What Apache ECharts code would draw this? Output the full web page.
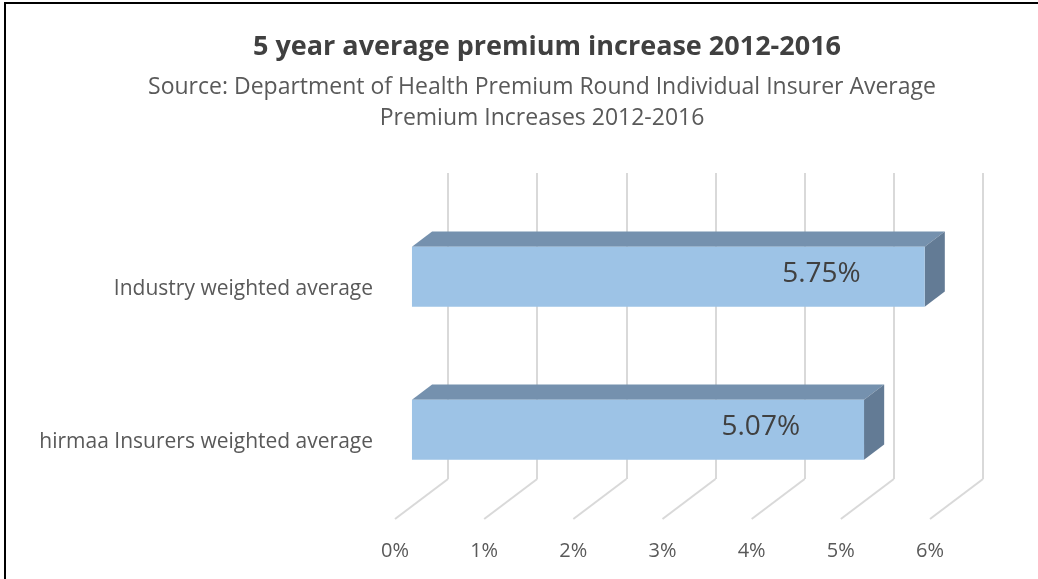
<!DOCTYPE html>
<html>
<head>
<meta charset="utf-8">
<script src="https://cdn.jsdelivr.net/npm/echarts@6/dist/echarts.min.js"></script>
<style>
  html, body { margin: 0; padding: 0; background: #fff; }
  #myDiv { width: 1038px; height: 579px; }
</style>
</head>
<body>
<div id="myDiv"></div>
<script>
// ------------------------------------------------------
// Data
// ------------------------------------------------------
var categories = ['hirmaa Insurers weighted average', 'Industry weighted average']
var increases = [5.07, 5.75]
var tickValues = [0, 1, 2, 3, 4, 5, 6]

var titleText = '5 year average premium increase 2012-2016'
var subText = 'Source: Department of Health Premium Round Individual Insurer Average\nPremium Increases 2012-2016'

// 3d look: offset from back wall to front edge of floor
var DX = -53
var DY = 40
var FRONT = 0.68   // depth of bar front face
var BACK = 0.30    // depth of bar back face
var FONT = '"Open Sans", sans-serif'

function floorLine(params, api) {
  var cs = params.coordSys
  var p = api.coord([api.value(0), 0])
  var y = cs.y + cs.height
  return {
    type: 'line',
    shape: { x1: p[0], y1: y, x2: p[0] + DX, y2: y + DY },
    style: { stroke: '#d9d9d9', lineWidth: 2 }
  }
}

function bar3d(params, api) {
  var v = api.value(0)
  var c = api.value(1)
  var s = api.coord([0, c])
  var e = api.coord([v, c])
  var h = api.size([0, 1])[1] * 0.393
  var top = s[1] - h / 2, bot = s[1] + h / 2
  var fx = DX * FRONT, fy = DY * FRONT
  var bx = DX * BACK, by = DY * BACK

  // corners
  var ftl = [s[0] + fx, top + fy], ftr = [e[0] + fx, top + fy]
  var fbr = [e[0] + fx, bot + fy]
  var btl = [s[0] + bx, top + by], btr = [e[0] + bx, top + by]
  var bbr = [e[0] + bx, bot + by]

  return {
    type: 'group',
    children: [
      { type: 'polygon', shape: { points: [ftl, ftr, btr, btl] },
        style: { fill: '#7591ae' } },
      { type: 'polygon', shape: { points: [ftr, btr, bbr, fbr] },
        style: { fill: '#637b95' } },
      { type: 'rect', shape: { x: ftl[0], y: ftl[1], width: ftr[0] - ftl[0], height: h },
        style: { fill: '#9dc3e6' } },
      { type: 'text',
        style: {
          x: ftr[0] - 64, y: (top + bot) / 2 + fy - 3,
          text: v.toFixed(2) + '%',
          align: 'right', verticalAlign: 'middle',
          font: '28px ' + FONT, fill: '#404040'
        } }
    ]
  }
}

var chart = echarts.init(document.getElementById('myDiv'))

var option = {
  backgroundColor: '#fff',
  animation: false,
  title: [
    {
      text: titleText,
      left: 542, top: 29, textAlign: 'center',
      textStyle: { fontFamily: FONT, fontSize: 27, fontWeight: 'bold', color: '#404040' }
    },
    {
      text: subText,
      left: 537, top: 67, textAlign: 'center',
      textStyle: { fontFamily: FONT, fontSize: 23, fontWeight: 'normal', color: '#595959', lineHeight: 31 }
    }
  ],
  graphic: [
    { type: 'rect', shape: { x: 5, y: 3, width: 1040, height: 590 },
      style: { fill: null, stroke: '#000', lineWidth: 2 }, silent: true }
  ],
  grid: [
    // back wall
    { left: 448, top: 173, width: 535, height: 306 },
    // front edge (labels only)
    { left: 395, top: 213, width: 535, height: 306 }
  ],
  xAxis: [
    {
      gridIndex: 0, type: 'value', min: 0, max: 6, interval: 1,
      axisLine: { show: false }, axisTick: { show: false }, axisLabel: { show: false },
      splitLine: { show: true, lineStyle: { color: '#d9d9d9', width: 2 } }
    },
    {
      gridIndex: 1, type: 'value', min: 0, max: 6, interval: 1,
      axisLine: { show: false }, axisTick: { show: false }, splitLine: { show: false },
      axisLabel: { margin: 22, fontFamily: FONT, fontSize: 20, color: '#595959',
        formatter: function (v) { return v + '%' } }
    }
  ],
  yAxis: [
    {
      gridIndex: 0, type: 'category', data: categories,
      axisLine: { show: false }, axisTick: { show: false }, axisLabel: { show: false },
      splitLine: { show: false }
    },
    {
      gridIndex: 1, type: 'category', data: categories,
      axisLine: { show: false }, axisTick: { show: false }, splitLine: { show: false },
      axisLabel: { margin: 22, fontFamily: FONT, fontSize: 21, color: '#595959', padding: [10, 0, 0, 0] }
    }
  ],
  series: [
    {
      type: 'custom', xAxisIndex: 0, yAxisIndex: 0, z: 1,
      renderItem: floorLine,
      data: tickValues.map(function (v) { return [v, 0] })
    },
    {
      type: 'custom', xAxisIndex: 0, yAxisIndex: 0, z: 5,
      renderItem: bar3d,
      encode: { x: 0, y: 1 },
      data: increases.map(function (v, i) { return [v, i] })
    }
  ]
}

option && chart.setOption(option)
</script>
</body>
</html>
